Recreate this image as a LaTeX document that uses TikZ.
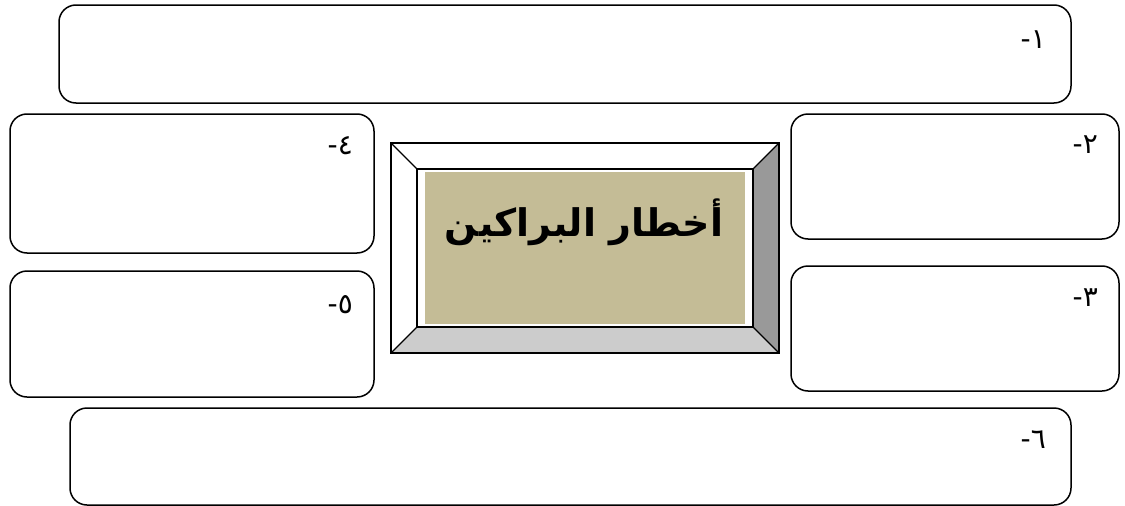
\documentclass[tikz,border=0pt]{standalone}
\usepackage{fontspec}
\TeXXeTstate=1
\newfontfamily\arabicfont[Script=Arabic]{DejaVu Sans}
\newfontfamily\arabicbold[Script=Arabic]{DejaVu Sans Bold}
\definecolor{beige}{HTML}{C4BC96}
\definecolor{darkgray}{HTML}{999999}
\definecolor{lightgray}{HTML}{CCCCCC}
\begin{document}
\begin{tikzpicture}[x=1pt,y=-1pt,
  itembox/.style={draw=black,line width=1.5pt,rounded corners=17pt},
  numlabel/.style={anchor=east,inner sep=0pt,font=\arabicfont\fontsize{28}{32}\selectfont}]
\useasboundingbox (0,0) rectangle (1125,506);
% boxes
\draw[itembox] (59,5) rectangle (1071,103);
\draw[itembox] (10,114) rectangle (374,253);
\draw[itembox] (791,114) rectangle (1119,239);
\draw[itembox] (10,271) rectangle (374,397);
\draw[itembox] (791,266) rectangle (1119,391);
\draw[itembox] (70,408) rectangle (1071,505);
% labels
\node[numlabel] (l1) at (1046,40) {\beginR ١-\endR};
\node[numlabel] (l4) at (353,146) {\beginR ٤-\endR};
\node[numlabel] (l2) at (1098,145) {\beginR ٢-\endR};
\node[numlabel] (l5) at (353,305) {\beginR ٥-\endR};
\node[numlabel] (l3) at (1098,298) {\beginR ٣-\endR};
\node[numlabel] (l6) at (1046,440) {\beginR ٦-\endR};
% bevel frame
\coordinate (o1) at (391,143); \coordinate (o2) at (779,143);
\coordinate (o3) at (779,353); \coordinate (o4) at (391,353);
\coordinate (i1) at (417,169); \coordinate (i2) at (753,169);
\coordinate (i3) at (753,327); \coordinate (i4) at (417,327);
\fill[white] (o1) -- (o2) -- (i2) -- (i1) -- cycle;
\fill[white] (o1) -- (i1) -- (i4) -- (o4) -- cycle;
\fill[darkgray] (o2) -- (o3) -- (i3) -- (i2) -- cycle;
\fill[lightgray] (o4) -- (i4) -- (i3) -- (o3) -- cycle;
\fill[beige] (425,172) rectangle (745,324);
\draw[line width=1.3pt] (o1) -- (o2) -- (o3) -- (o4) -- cycle;
\draw[line width=1.3pt] (i1) -- (i2) -- (i3) -- (i4) -- cycle;
\draw[line width=1.3pt] (o1) -- (i1) (o2) -- (i2) (o3) -- (i3) (o4) -- (i4);
\node[inner sep=0pt,font=\arabicbold\fontsize{38}{44}\selectfont] (title) at (584,222) {\beginR أخطار البراكين\endR};
\end{tikzpicture}
\end{document}
